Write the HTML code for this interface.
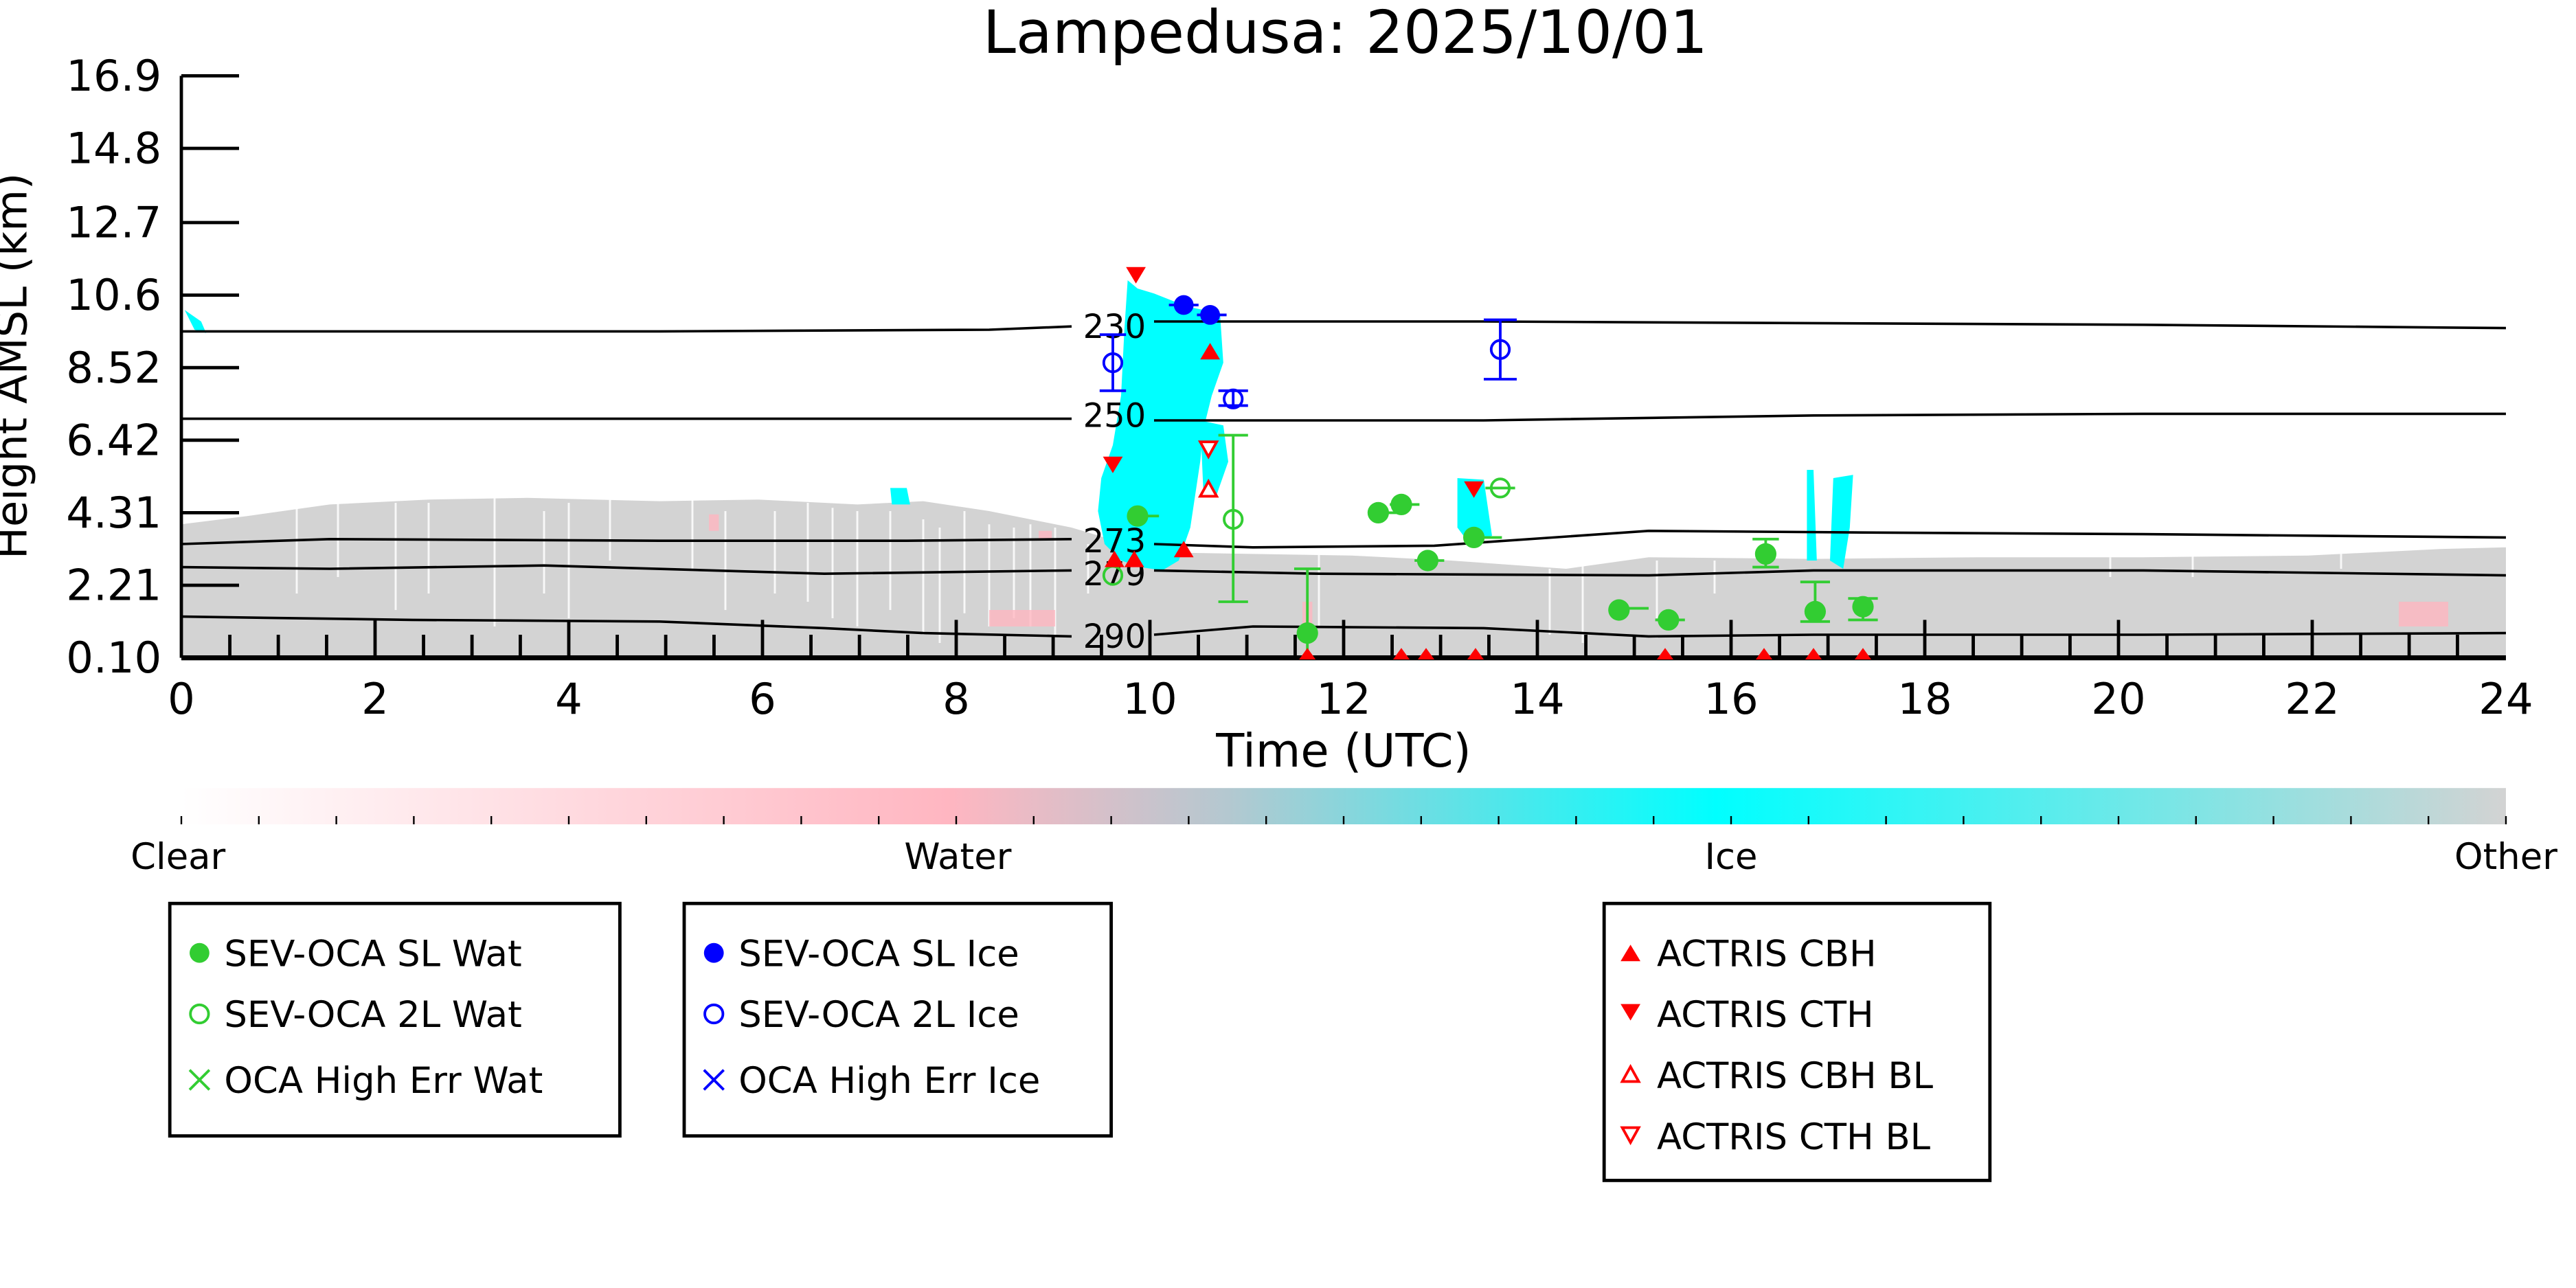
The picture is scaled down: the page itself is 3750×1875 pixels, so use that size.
<!DOCTYPE html>
<html><head><meta charset="utf-8"><style>html,body{margin:0;padding:0;background:#fff}svg{display:block}</style></head><body>
<svg width="3750" height="1875" viewBox="0 0 1562.5 781.25" xmlns="http://www.w3.org/2000/svg" font-family="'DejaVu Sans','Liberation Sans',sans-serif">
<defs>
<linearGradient id="cb" x1="0" x2="1" y1="0" y2="0">
<stop offset="0" stop-color="#fff"/><stop offset="0.33" stop-color="#ffb6c1"/><stop offset="0.45" stop-color="#b4c8d0"/><stop offset="0.66" stop-color="#00ffff"/><stop offset="1" stop-color="#d3d3d3"/>
</linearGradient>
</defs>
<text x="816" y="32" font-size="36" text-anchor="middle">Lampedusa: 2025/10/01</text>
<path d="M110,318 L150,313 L200,306 L260,303 L320,302 L400,304 L460,303 L520,306 L560,304 L600,310 L650,320 L700,335 L760,336 L820,337 L880,340 L950,345 L1000,338 L1100,339 L1200,338 L1300,338 L1400,337 L1480,333 L1520,332 L1520,399 L110,399 Z" fill="#d3d3d3"/>
<g stroke="#fff" stroke-width="1.2" opacity="0.85">
<path d="M180,300V360M205,300V350M240,305V370M260,305V360M300,300V380M330,310V360M345,305V375M370,300V340M420,300V345M440,310V370M470,310V360M490,305V365M505,308V375M520,310V380M540,310V370M560,315V385M570,320V390M585,310V372M600,318V380M615,320V375M625,318V380M640,320V385M660,330V360M800,335V380M940,345V385M960,340V390M1005,340V375M1040,340V360M1280,338V350M1330,336V350M1420,334V345"/>
</g>
<g fill="#ffb6c1" opacity="0.8">
<rect x="430" y="312" width="6" height="10"/><rect x="600" y="370" width="40" height="10"/><rect x="1455" y="365" width="30" height="15"/><rect x="630" y="322" width="8" height="5"/><rect x="790" y="365" width="6" height="25"/>
</g>
<path d="M684,170 L690,175 L700,178 L710,182 L720,186 L740,190 L742,220 L735,240 L730,260 L728,280 L725,300 L722,320 L715,340 L705,346 L692,344 L680,340 L670,330 L666,310 L668,290 L675,270 L680,240 L682,200 Z" fill="#00ffff"/>
<path d="M728,255 L742,258 L745,280 L738,300 L730,300 Z" fill="#00ffff"/>
<path d="M884,290 L900,291 L905,325 L890,328 L884,320 Z" fill="#00ffff"/>
<path d="M1096,285 L1100,285 L1102,340 L1096,340 Z M1112,290 L1124,288 L1122,320 L1118,345 L1110,340 Z" fill="#00ffff"/>
<path d="M540,296 L550,296 L552,306 L541,306 Z M112,188 L122,195 L125,202 L118,200 Z" fill="#00ffff"/>
<g fill="none" stroke="#000" stroke-width="1.5">
<path d="M110,201 L200,201 L400,201 L600,200 L650,198 M700,195 L900,195 L1100,196 L1300,197 L1520,199"/>
<path d="M110,254 L300,254 L500,254 L650,254 M700,255 L900,255 L1100,252 L1300,251 L1520,251"/>
<path d="M110,330 L200,327 L400,328 L550,328 L650,327 M700,330 L760,332 L870,331 L1000,322 L1130,323 L1300,324 L1520,326"/>
<path d="M110,344 L200,345 L330,343 L500,348 L650,346 M700,346 L800,348 L1000,349 L1100,346 L1300,346 L1520,349"/>
<path d="M110,374 L250,376 L400,377 L500,381 L560,384 L650,386 M700,385 L760,380 L900,381 L1000,386 L1100,385 L1300,385 L1520,384"/>
</g>
<g font-size="20" text-anchor="middle">
<text x="676" y="205">230</text><text x="676" y="259">250</text><text x="676" y="335">273</text><text x="676" y="355">279</text><text x="676" y="393">290</text>
</g>
<g stroke="#000" stroke-width="2">
<line x1="110" y1="399" x2="1520" y2="399" stroke-width="3"/>
<line x1="110" y1="46" x2="110" y2="399"/>
<path d="M110,46h35M110,90h35M110,135h35M110,179h35M110,223h35M110,267h35M110,311h35M110,355h35"/>
<path d="M227.5,399v-23M345,399v-23M462.5,399v-23M580,399v-23M697.5,399v-23M815,399v-23M932.5,399v-23M1050,399v-23M1167.5,399v-23M1285,399v-23M1402.5,399v-23"/>
<path d="M139.4,399v-14M168.8,399v-14M198.1,399v-14M256.9,399v-14M286.3,399v-14M315.6,399v-14M374.4,399v-14M403.8,399v-14M433.1,399v-14M491.9,399v-14M521.3,399v-14M550.6,399v-14M609.4,399v-14M638.8,399v-14M668.1,399v-14M726.9,399v-14M756.3,399v-14M785.6,399v-14M844.4,399v-14M873.8,399v-14M903.1,399v-14M961.9,399v-14M991.3,399v-14M1020.6,399v-14M1079.4,399v-14M1108.8,399v-14M1138.1,399v-14M1196.9,399v-14M1226.3,399v-14M1255.6,399v-14M1314.4,399v-14M1343.8,399v-14M1373.1,399v-14M1431.9,399v-14M1461.3,399v-14M1490.6,399v-14"/>
</g>
<g font-size="26" text-anchor="end">
<text x="98" y="55">16.9</text><text x="98" y="99">14.8</text><text x="98" y="144">12.7</text><text x="98" y="188">10.6</text><text x="98" y="232">8.52</text><text x="98" y="276">6.42</text><text x="98" y="320">4.31</text><text x="98" y="364">2.21</text><text x="98" y="408">0.10</text>
</g>
<g font-size="26" text-anchor="middle">
<text x="110" y="433">0</text><text x="227.5" y="433">2</text><text x="345" y="433">4</text><text x="462.5" y="433">6</text><text x="580" y="433">8</text><text x="697.5" y="433">10</text><text x="815" y="433">12</text><text x="932.5" y="433">14</text><text x="1050" y="433">16</text><text x="1167.5" y="433">18</text><text x="1285" y="433">20</text><text x="1402.5" y="433">22</text><text x="1520" y="433">24</text>
<text x="815" y="465" font-size="28">Time (UTC)</text>
</g>
<text transform="translate(16,222) rotate(-90)" font-size="26" text-anchor="middle">Height AMSL (km)</text>
<g fill="none" stroke-width="1.6">
<g stroke="#0000ff"><path d="M675,203V237M667,203h16M667,237h16 M910,194V230M900,194h20M900,230h20 M748,237V246M739,237h18M739,246h18 M709,185h18M726,191h18"/>
<circle cx="675" cy="220" r="5.5"/><circle cx="748" cy="242" r="5.5"/><circle cx="910" cy="212" r="5.5"/></g>
<g stroke="#32cd32"><path d="M748,264V365M739,264h18M739,365h18 M793,345V400M785,345h16 M1071,327V344M1063,327h16M1063,344h16 M1101,353V377M1092,353h18M1092,377h18 M1130,363V376M1121,363h18M1121,376h18 M982,369h18 M1004,376h18 M830,311h18 M843,306h18 M858,340h18 M893,326h18 M685,313h18 M901,296h18"/>
<circle cx="748" cy="315" r="5.5"/><circle cx="675" cy="349" r="5.5"/><circle cx="910" cy="296" r="5.5"/></g>
</g>
<g fill="#32cd32">
<circle cx="690" cy="313" r="6.5"/><circle cx="836" cy="311" r="6.5"/><circle cx="850" cy="306" r="6.5"/><circle cx="866" cy="340" r="6.5"/><circle cx="894" cy="326" r="6.5"/><circle cx="793" cy="384" r="6.5"/><circle cx="982" cy="370" r="6.5"/><circle cx="1012" cy="376" r="6.5"/><circle cx="1071" cy="336" r="6.5"/><circle cx="1101" cy="371" r="6.5"/><circle cx="1130" cy="368" r="6.5"/>
</g>
<g fill="#0000ff"><circle cx="718" cy="185" r="6"/><circle cx="734" cy="191" r="6"/></g>
<g fill="#ff0000">
<path d="M683,162h12l-6,10z M669,277h12l-6,10z M888,292h12l-6,10z M728,218h12l-6-10z M712,338h12l-6-10z M682,344h12l-6-10z M670,344h12l-6-10z"/>
<path d="M845,400h10l-5-7z M860,400h10l-5-7z M890,400h10l-5-7z M1005,400h10l-5-7z M1065,400h10l-5-7z M1095,400h10l-5-7z M1125,400h10l-5-7z M788,400h10l-5-7z"/>
</g>
<g fill="#fff" stroke="#ff0000" stroke-width="1.6"><path d="M728,268h10l-5,9z M728,301h10l-5-9z"/></g>
<rect x="110" y="478" width="1410" height="22" fill="url(#cb)"/>
<g stroke="#000" stroke-width="1"><path d="M110,500v-5M157,500v-5M204,500v-5M251,500v-5M298,500v-5M345,500v-5M392,500v-5M439,500v-5M486,500v-5M533,500v-5M580,500v-5M627,500v-5M674,500v-5M721,500v-5M768,500v-5M815,500v-5M862,500v-5M909,500v-5M956,500v-5M1003,500v-5M1050,500v-5M1097,500v-5M1144,500v-5M1191,500v-5M1238,500v-5M1285,500v-5M1332,500v-5M1379,500v-5M1426,500v-5M1473,500v-5M1520,500v-5"/></g>
<g font-size="22" text-anchor="middle"><text x="108" y="527">Clear</text><text x="581" y="527">Water</text><text x="1050" y="527">Ice</text><text x="1520" y="527">Other</text></g>
<g fill="none" stroke="#000" stroke-width="2"><rect x="103" y="548" width="273" height="141"/><rect x="415" y="548" width="259" height="141"/><rect x="973" y="548" width="234" height="168"/></g>
<g font-size="22">
<circle cx="121" cy="578" r="6" fill="#32cd32"/><text x="136" y="586">SEV-OCA SL Wat</text>
<circle cx="121" cy="615" r="5.5" fill="none" stroke="#32cd32" stroke-width="1.6"/><text x="136" y="623">SEV-OCA 2L Wat</text>
<path d="M115,649l12,12M127,649l-12,12" stroke="#32cd32" stroke-width="1.6"/><text x="136" y="663">OCA High Err Wat</text>
<circle cx="433" cy="578" r="6" fill="#0000ff"/><text x="448" y="586">SEV-OCA SL Ice</text>
<circle cx="433" cy="615" r="5.5" fill="none" stroke="#0000ff" stroke-width="1.6"/><text x="448" y="623">SEV-OCA 2L Ice</text>
<path d="M427,649l12,12M439,649l-12,12" stroke="#0000ff" stroke-width="1.6"/><text x="448" y="663">OCA High Err Ice</text>
<path d="M983,583h12l-6-10z" fill="#ff0000"/><text x="1005" y="586">ACTRIS CBH</text>
<path d="M983,609h12l-6,10z" fill="#ff0000"/><text x="1005" y="623">ACTRIS CTH</text>
<path d="M984,656h10l-5-9z" fill="none" stroke="#ff0000" stroke-width="1.6"/><text x="1005" y="660">ACTRIS CBH BL</text>
<path d="M984,684h10l-5,9z" fill="none" stroke="#ff0000" stroke-width="1.6"/><text x="1005" y="697">ACTRIS CTH BL</text>
</g>
</svg>
</body></html>
